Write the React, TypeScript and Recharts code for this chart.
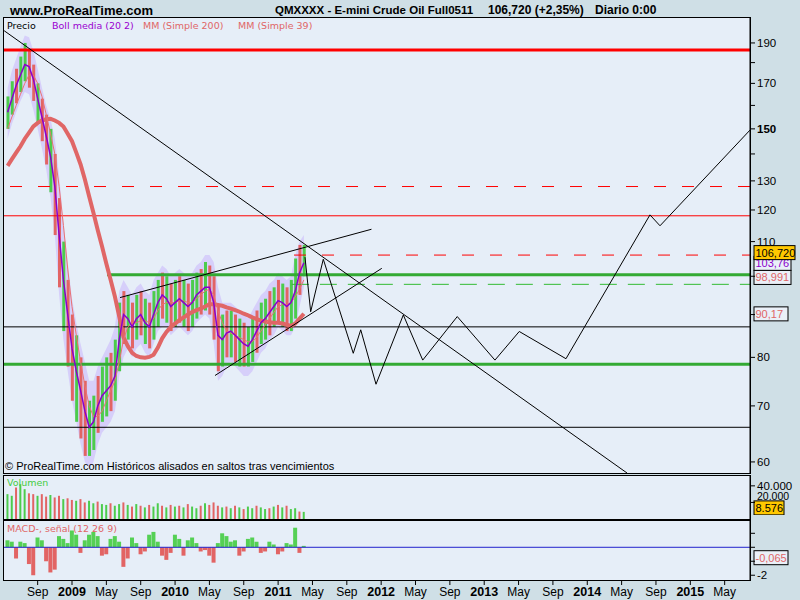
import React from 'react';
import { ComposedChart, Bar, Line, Area, XAxis, YAxis, ReferenceLine, Cell } from 'recharts';

// months since Jan 2009, half-month steps
const MONTHS = [
  -7.5, -7, -6.5, -6, -5.5, -5, -4.5, -4, -3.5, -3,
  -2.5, -2, -1.5, -1, -0.5,
  0, 0.5, 1, 1.5, 2, 2.5, 3, 3.5, 4, 4.5,
  5, 5.5, 6, 6.5, 7, 7.5, 8, 8.5, 9, 9.5,
  10, 10.5, 11, 11.5, 12, 12.5, 13, 13.5, 14, 14.5,
  15, 15.5, 16, 16.5, 17, 17.5, 18, 18.5, 19, 19.5,
  20, 20.5, 21, 21.5, 22, 22.5, 23, 23.5, 24, 24.5,
  25, 25.5, 26, 26.5, 27,
];
const BOLL_MID = [
  157, 163, 169, 174, 179, 178, 172, 163, 155, 147,
  139, 128, 112, 99, 90,
  82, 77, 73, 69, 66, 67, 70, 72, 73, 74,
  76, 84, 90, 89, 87, 89, 90, 88, 87, 90,
  93, 95, 94, 92, 93, 94, 93, 92, 93, 95,
  96, 97, 97, 93, 85, 84, 85.5, 86, 85, 84,
  83, 82.5, 84, 86, 88, 89, 90.5, 92, 93.5, 93,
  92, 93, 96, 101, 103.8,
];
const HIGH = [
  164, 171, 177, 183, 190, 186, 179, 170, 163, 156,
  150, 140, 124, 110, 99,
  90, 85, 80, 75, 71, 72, 76, 78, 80, 81,
  84, 93, 96, 95, 93, 95, 96, 94, 93, 96,
  99, 101, 100, 98, 99, 100, 99, 98, 99, 101,
  102, 104, 103, 100, 92, 90, 91, 91, 90, 89,
  88, 87, 89, 91, 93, 94, 96, 97, 99, 98,
  97, 99, 105, 109, 109,
];
const LOW = [
  150, 156, 161, 166, 171, 168, 162, 152, 145, 136,
  126, 112, 97, 86, 78,
  71, 67, 64, 61, 61, 62, 65, 67, 68, 69,
  71, 77, 83, 84, 82, 84, 85, 83, 82, 84,
  87, 89, 88, 86, 87, 88, 87, 86, 87, 89,
  90, 91, 90, 84, 77, 78, 80, 80, 79, 78,
  78, 78, 79, 81, 83, 84, 85, 87, 88, 87,
  86, 86, 89, 95, 100,
];
const BAND_UP = [
  168, 176, 182, 188, 194, 193, 186, 177, 168, 160,
  154, 146, 132, 116, 104,
  94, 88, 83, 79, 75, 75, 78, 80, 82, 84,
  87, 96, 99, 97, 95, 97, 98, 96, 95, 99,
  101, 103, 102, 100, 101, 102, 101, 100, 101, 103,
  104, 106, 106, 104, 97, 93, 93, 93, 92, 91,
  90, 89, 91, 93, 95, 96, 98, 99, 101, 100,
  99, 100, 106, 110, 112,
];
const BAND_LO = [
  146, 152, 157, 162, 166, 165, 158, 150, 142, 134,
  124, 112, 95, 84, 77,
  71, 67, 63, 60, 59, 60, 63, 65, 66, 67,
  69, 76, 80, 82, 80, 82, 83, 81, 80, 83,
  86, 87, 87, 85, 86, 87, 86, 85, 86, 88,
  89, 90, 89, 83, 75, 76, 78, 79, 78, 77,
  76, 76, 77, 79, 81, 82, 84, 85, 87, 86,
  85, 85, 87, 92, 97,
];
const SMA39 = [
  150, 155, 160, 165, 170, 174, 174, 170, 164, 156,
  148, 140, 128, 115, 102,
  92, 85, 79, 74, 70, 68, 68, 69, 71, 73,
  75, 79, 84, 87, 88, 88, 88.5, 88.5, 88, 89,
  91, 92.5, 93, 93, 93, 93.5, 93.5, 93, 93, 94,
  95, 96, 96.5, 95, 91, 88, 86, 85.5, 85, 84.5,
  84, 83.5, 83.5, 84.5, 86, 87.5, 89, 90.5, 92, 92.5,
  92.5, 93, 94.5, 96.5, 99,
];
const SMA200 = [
  135.5, 138, 140.5, 143, 146, 148.5, 151, 152.5, 153.5, 154,
  154.2, 153.5, 152.5, 151, 148,
  145, 140.5, 136, 130.5, 124.5, 119, 113.5, 108.5, 103.5, 99,
  94.5, 89.5, 84.5, 82.5, 81, 80.3, 80, 79.9, 80.1, 80.6,
  82.2, 84.3, 85.8, 87, 87.8, 88.6, 89.3, 90, 90.6, 91.1,
  91.5, 92, 92.6, 92.6, 92.4, 92.2, 91.8, 91.5, 91.1, 90.7,
  90.2, 89.8, 89.3, 88.9, 88.5, 88.3, 88.1, 88, 88, 87.8,
  87.5, 87.2, 87.8, 89, 90.2,
];
const BAR_DIR = 'ggrggrrgrr' + 'grrgr' + 'rgrrggrggr' + 'ggrgrgrgrg' + 'grgrgrgrgg' + 'rgrrrgrgrg' + 'rggrggrgrg' + 'rggrg';
const VOLUME = [
  30, 28, 38, 42, 36, 31, 30, 28, 30, 27,
  29, 26, 28, 24, 25,
  23, 22, 24, 20, 22, 19, 21, 18, 17, 19,
  16, 18, 20, 17, 15, 18, 16, 14, 17, 15,
  19, 16, 14, 17, 15, 16, 14, 18, 15, 13,
  16, 19, 17, 20, 16, 14, 15, 13, 16, 14,
  12, 15, 13, 16, 14, 12, 13, 15, 17, 14,
  16, 12, 13, 9, 8.6,
];
const MACD = [
  0.5, 0.4, -0.8, 0.4, 0.3, -1.2, -2.0, 0.7, 0.5, -1.0,
  -1.8, -1.6, 0.8, 0.6, 0.3,
  1.2, 0.9, -0.4, 0.5, 0.9, 1.1, 0.8, -0.6, -0.5, 0.6,
  0.8, 0.4, -1.4, -0.8, 0.7, 0.3, -0.5, -0.3, 0.9, 1.1,
  0.4, -0.6, -0.9, -0.4, 0.9, 0.6, -0.6, 0.5, 0.7, 0.3,
  -0.3, -0.2, -0.6, -1.1, 0.3, 1.0, 0.8, 0.4, 0.5, -0.6,
  -0.3, 0.6, 0.7, 0.4, -0.4, -0.3, 0.4, 0.2, -0.5, -0.3,
  0.3, 0.2, 1.4, -0.4, 0.1,
];

// projection zigzag
const ZIG_M = [27.13, 27.79, 29.26, 32.75, 33.62, 35.4, 38.58, 40.84, 44.86, 49.25, 52.08, 57.52, 67.3, 68.47, 78.95];
const ZIG_P = [105.4, 90.7, 104.8, 80.9, 86.3, 74.3, 89.9, 79.4, 89.5, 79.4, 85.9, 79.7, 118.4, 114.9, 149.5];

// trendlines [m1, p1, m2, p2]
const TREND_DOWN = [-7.9, 196.5, 64.63, 58.2];
const CHANNEL_TOP = [5.59, 94.3, 34.87, 113.8];
const CHANNEL_LOW = [16.65, 76.1, 36.07, 102.2];

// horizontal levels
const LEVEL_TOP_RED = 186.4;
const LEVEL_DASH_RED_HI = 128;
const LEVEL_RED = 118.1;
const LEVEL_DASH_RED = 106;
const LEVEL_GREEN = 100.4;
const LEVEL_DASH_GREEN = 97.8;
const LEVEL_BLACK_HI = 87;
const LEVEL_GREEN_LOW = 78.5;
const LEVEL_BLACK_LOW = 66;
const START_GREEN = 4.08;
const START_DASH_RED = 25.85;
const START_DASH_GREEN = 25.6;

const X_DOMAIN: [number, number] = [-7.92, 78.95];
const X_TICKS = [-4, 0, 4, 8, 12, 16, 20, 24, 28, 32, 36, 40, 44, 48, 52, 56, 60, 64, 68, 72, 76];
const X_LABELS = ['Sep', '2009', 'May', 'Sep', '2010', 'May', 'Sep', '2011', 'May', 'Sep', '2012', 'May', 'Sep', '2013', 'May', 'Sep', '2014', 'May', 'Sep', '2015', 'May'];
const PRICE_TICKS = [60, 70, 80, 90, 100, 110, 120, 130, 140, 150, 160, 170, 180, 190];
const PRICE_LABELED = [60, 70, 80, 110, 120, 130, 150, 170, 190];
const VOL_TICKS = [20000, 40000];
const MACD_TICKS = [-2, -1, 0, 1];

const LAST_PRICE = 106.72;
const LAST_BOLL = 103.76;
const LAST_SMA39 = 98.991;
const LAST_SMA200 = 90.17;
const LAST_VOLUME = 8576;
const LAST_MACD = -0.065;

const FONT = '"Liberation Sans", Arial, sans-serif';
const SMALL = '"DejaVu Sans", sans-serif';
const OUTER = '#cfdfe6';
const INNER = '#e6eef8';
const RED_BAR = '#e26464';
const GREEN_BAR = '#4ccc4c';
const SALMON = '#e06666';
const PURPLE = '#8a00cc';

const priceData = MONTHS.map((m, i) => ({
  m,
  mid: BOLL_MID[i],
  range: [LOW[i], HIGH[i]],
  band: [BAND_LO[i], BAND_UP[i]],
  s39: SMA39[i],
  s200: SMA200[i],
  up: BAR_DIR[i] === 'g',
}));
const volData = MONTHS.map((m, i) => ({ m, v: VOLUME[i] * 1000, up: BAR_DIR[i] === 'g' }));
const macdData = MONTHS.map((m, i) => ({ m, h: MACD[i] }));

const PriceTick = (props: any) => {
  const { x, y, payload } = props;
  const v = payload.value;
  if (!PRICE_LABELED.includes(v)) return <g />;
  return (
    <text x={x} y={y} dy={4} fontSize={11.5} fontFamily={FONT} fontWeight={v === 150 ? 'bold' : 'normal'} fill="#000">
      {v}
    </text>
  );
};

// the 20.000 label sits just above the last-volume tag
const VolTick = (props: any) => {
  const { x, y, payload } = props;
  const v = payload.value;
  return (
    <text x={x} y={y} dy={v === 20000 ? -2 : 4} fontSize={v === 20000 ? 10.5 : 11.5} fontFamily={FONT} fill="#000">
      {(v / 1000).toFixed(0) + '.000'}
    </text>
  );
};

const XTick = (props: any) => {
  const { x, y, index } = props;
  const label = X_LABELS[index];
  const year = /^\d/.test(label);
  return (
    <text x={x} y={y} dy={9} textAnchor="middle" fontSize={year ? 12.5 : 12} fontWeight={year ? 'bold' : 'normal'} fontFamily={FONT} fill="#000">
      {label}
    </text>
  );
};

const tag = (text: string, bg: string, color: string, w: number, dy: number) => (props: any) => {
  const vb = props.viewBox || {};
  const x = (vb.x || 0) + (vb.width || 0) + 4;
  const y = (vb.y || 0) + dy;
  return (
    <g>
      <rect x={x} y={y - 7} width={w} height={14} fill={bg} stroke="#000" strokeWidth={1} />
      <text x={x + 1.5} y={y + 4} fontSize={11} fontFamily={FONT} fill={color}>{text}</text>
    </g>
  );
};

const seg = (a: number[], key: string) => (
  <ReferenceLine key={key} segment={[{ x: a[0], y: a[1] }, { x: a[2], y: a[3] }]} stroke="#000" strokeWidth={1} />
);

const Panel = ({ top, height }: { top: number; height: number }) => (
  <div style={{ position: 'absolute', left: 3, top, width: 748, height, background: INNER, border: '1px solid #000', boxSizing: 'border-box' }} />
);

export default function App() {
  const zigSegs = ZIG_M.slice(1).map((m, i) => seg([ZIG_M[i], ZIG_P[i], m, ZIG_P[i + 1]], 'z' + i));

  return (
    <div style={{ position: 'absolute', left: 0, top: 0, width: 800, height: 600, background: OUTER, overflow: 'hidden' }}>
      <Panel top={17} height={457} />
      <Panel top={475} height={45} />
      <Panel top={520} height={61} />

      <div style={{ position: 'absolute', left: 0, top: 0 }}>
        <ComposedChart width={800} height={475} data={priceData} margin={{ top: 18, right: 0, bottom: 2, left: 4 }}>
          <XAxis dataKey="m" type="number" domain={X_DOMAIN} allowDataOverflow hide />
          <YAxis
            orientation="right"
            scale="log"
            domain={[58.2, 203.5]}
            allowDataOverflow
            ticks={PRICE_TICKS}
            interval={0}
            width={50}
            tickSize={5}
            tick={<PriceTick />}
            axisLine={{ stroke: '#000' }}
            tickLine={{ stroke: '#000' }}
          />
          <Area dataKey="band" fill="#d6cffa" fillOpacity={1} stroke="none" isAnimationActive={false} />
          <ReferenceLine y={LEVEL_TOP_RED} stroke="#ff0000" strokeWidth={3} />
          <ReferenceLine y={LEVEL_DASH_RED_HI} stroke="#ff0000" strokeWidth={1} strokeDasharray="12 16" />
          <ReferenceLine y={LEVEL_RED} stroke="#ff0000" strokeWidth={1} />
          <ReferenceLine segment={[{ x: START_DASH_RED, y: LEVEL_DASH_RED }, { x: X_DOMAIN[1], y: LEVEL_DASH_RED }]} stroke="#ff0000" strokeWidth={1} strokeDasharray="12 16" />
          <ReferenceLine segment={[{ x: START_DASH_GREEN, y: LEVEL_DASH_GREEN }, { x: X_DOMAIN[1], y: LEVEL_DASH_GREEN }]} stroke="#33bb33" strokeWidth={1} strokeDasharray="17 11" />
          <ReferenceLine y={LEVEL_BLACK_HI} stroke="#000" strokeWidth={1} />
          <ReferenceLine y={LEVEL_BLACK_LOW} stroke="#000" strokeWidth={1} />
          <Bar dataKey="range" barSize={3} isAnimationActive={false}>
            {priceData.map((d, i) => (
              <Cell key={i} fill={d.up ? GREEN_BAR : RED_BAR} />
            ))}
          </Bar>
          <ReferenceLine segment={[{ x: START_GREEN, y: LEVEL_GREEN }, { x: X_DOMAIN[1], y: LEVEL_GREEN }]} stroke="#33aa33" strokeWidth={3} />
          <ReferenceLine y={LEVEL_GREEN_LOW} stroke="#33aa33" strokeWidth={3} />
          <Line dataKey="s200" stroke={SALMON} strokeWidth={4} dot={false} isAnimationActive={false} />
          <Line dataKey="s39" stroke="#ea7272" strokeWidth={1} dot={false} isAnimationActive={false} />
          <Line dataKey="mid" stroke={PURPLE} strokeWidth={1.5} dot={false} isAnimationActive={false} />
          {seg(TREND_DOWN, 't1')}
          {seg(CHANNEL_TOP, 't2')}
          {seg(CHANNEL_LOW, 't3')}
          {zigSegs}
          <ReferenceLine y={LAST_SMA200} stroke="none" label={tag('90,17', '#eaf0f8', SALMON, 34, 0)} />
          <ReferenceLine y={LAST_SMA39} stroke="none" label={tag('98,991', '#eaf0f8', SALMON, 37, -2.5)} />
          <ReferenceLine y={LAST_BOLL} stroke="none" label={tag('103,76', '#eaf0f8', PURPLE, 37, 0.5)} />
          <ReferenceLine y={LAST_PRICE} stroke="none" label={tag('106,720', '#ffc800', '#000', 41, 0)} />
        </ComposedChart>
      </div>

      <div style={{ position: 'absolute', left: 0, top: 476 }}>
        <ComposedChart width={800} height={43} data={volData} margin={{ top: 0, right: 0, bottom: 0, left: 4 }}>
          <XAxis dataKey="m" type="number" domain={X_DOMAIN} allowDataOverflow hide />
          <YAxis
            orientation="right"
            domain={[0, 51900]}
            allowDataOverflow
            ticks={VOL_TICKS}
            interval={0}
            width={50}
            tickSize={5}
            tick={<VolTick />}
            axisLine={{ stroke: '#000' }}
            tickLine={{ stroke: '#000' }}
          />
          <Bar dataKey="v" barSize={2} isAnimationActive={false}>
            {volData.map((d, i) => (
              <Cell key={i} fill={d.up ? GREEN_BAR : RED_BAR} />
            ))}
          </Bar>
          <ReferenceLine y={LAST_VOLUME} stroke="none" label={tag('8.576', '#ffc800', '#000', 30, -4)} />
        </ComposedChart>
      </div>

      <div style={{ position: 'absolute', left: 0, top: 521 }}>
        <ComposedChart width={800} height={79} data={macdData} margin={{ top: 0, right: 0, bottom: 0, left: 4 }}>
          <XAxis
            dataKey="m"
            type="number"
            domain={X_DOMAIN}
            allowDataOverflow
            ticks={X_TICKS}
            interval={0}
            height={20}
            tickSize={5}
            tick={<XTick />}
            axisLine={false}
            tickLine={{ stroke: '#000' }}
          />
          <YAxis
            orientation="right"
            domain={[-2.34, 1.88]}
            allowDataOverflow
            ticks={MACD_TICKS}
            interval={0}
            width={50}
            tickSize={5}
            tickFormatter={(v: number) => (v === -2 ? '-2' : '')}
            tick={{ fontSize: 11.5, fontFamily: FONT, fill: '#000' }}
            axisLine={{ stroke: '#000' }}
            tickLine={{ stroke: '#000' }}
          />
          <Bar dataKey="h" barSize={4} isAnimationActive={false}>
            {macdData.map((d, i) => (
              <Cell key={i} fill={d.h >= 0 ? '#55d055' : RED_BAR} />
            ))}
          </Bar>
          <ReferenceLine y={0} stroke="#2222cc" strokeWidth={1} />
          <ReferenceLine y={LAST_MACD} stroke="none" label={tag('-0,065', '#eaf0f8', SALMON, 34, 9.5)} />
        </ComposedChart>
      </div>

      {/* plain strip between the lower panels, right of the axes */}
      <div style={{ position: 'absolute', left: 752, top: 515, width: 48, height: 14, background: OUTER, zIndex: 10 }} />

      <svg width={800} height={600} style={{ position: 'absolute', left: 0, top: 0, pointerEvents: 'none', zIndex: 20 }}>
        <text x={10} y={14.5} fontSize={13} fontWeight="bold" fontFamily={FONT} fill="#000">www.ProRealTime.com</text>
        <text x={275} y={14} fontSize={11.5} fontWeight="bold" fontFamily={FONT} fill="#000">QMXXXX - E-mini Crude Oil Full0511</text>
        <text x={488} y={14} fontSize={12} fontWeight="bold" fontFamily={FONT} fill="#000">106,720 (+2,35%)</text>
        <text x={595} y={14} fontSize={12} fontWeight="bold" fontFamily={FONT} fill="#000">Diario  0:00</text>
        <text x={7} y={28.5} fontSize={9.5} fontFamily={SMALL} fill="#000">Precio</text>
        <text x={52} y={28.5} fontSize={9.5} fontFamily={SMALL} fill="#9a00d0">Boll media (20 2)</text>
        <text x={143} y={28.5} fontSize={9.5} fontFamily={SMALL} fill={SALMON}>MM (Simple 200)</text>
        <text x={238} y={28.5} fontSize={9.5} fontFamily={SMALL} fill={SALMON}>MM (Simple 39)</text>
        <text x={5} y={470} fontSize={11} fontFamily={FONT} fill="#000">© ProRealTime.com  Históricos alisados en saltos tras vencimientos</text>
        <text x={7} y={486} fontSize={9.5} fontFamily={SMALL} fill="#44cc44">Volumen</text>
        <text x={7} y={531.5} fontSize={9.5} fontFamily={SMALL} fill={SALMON}>MACD-, señal (12 26 9)</text>
      </svg>
    </div>
  );
}
